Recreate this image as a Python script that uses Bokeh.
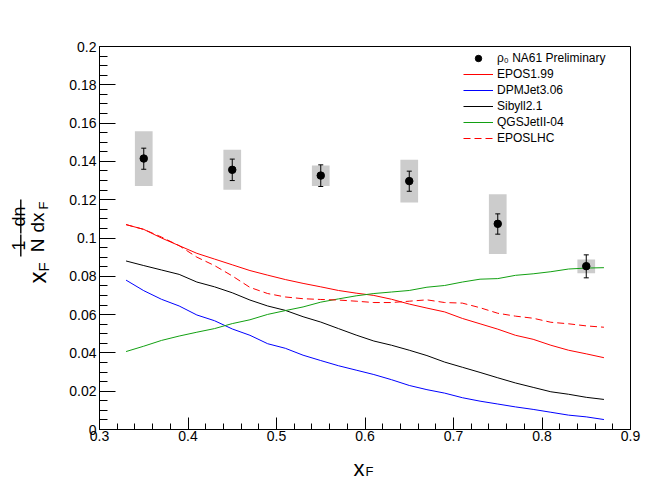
from math import pi
from bokeh.plotting import figure
from bokeh.layouts import row, column
from bokeh.models import (ColumnDataSource, Range1d, SingleIntervalTicker, CustomJSTickFormatter,
                          Legend, LegendItem, Whisker, TeeHead, Label)
from bokeh.embed import file_html
from bokeh.resources import INLINE

# ---------------- data ----------------
# NA61 preliminary rho0 points
xF_data = [0.35, 0.45, 0.55, 0.65, 0.75, 0.85]
rho_val = [0.1415, 0.1356, 0.1326, 0.1297, 0.1074, 0.0853]
stat_lo = [0.1359, 0.1300, 0.1269, 0.1244, 0.1020, 0.0792]
stat_hi = [0.1469, 0.1412, 0.1382, 0.1349, 0.1126, 0.0912]
sys_lo = [0.1271, 0.1252, 0.1271, 0.1185, 0.0916, 0.0816]
sys_hi = [0.1558, 0.1461, 0.1379, 0.1408, 0.1229, 0.0888]
bin_half = 0.01

# model predictions
xF_model = [0.33, 0.35, 0.37, 0.39, 0.41, 0.43, 0.45, 0.47, 0.49, 0.51, 0.53, 0.55, 0.57, 0.59,
            0.61, 0.63, 0.65, 0.67, 0.69, 0.71, 0.73, 0.75, 0.77, 0.79, 0.81, 0.83, 0.85, 0.87]
epos199 = [0.107, 0.1045, 0.100, 0.096, 0.092, 0.089, 0.086, 0.083, 0.0806, 0.0783, 0.0763, 0.0745,
           0.0726, 0.0712, 0.070, 0.068, 0.0655, 0.0634, 0.0614, 0.058, 0.0552, 0.0524, 0.0492,
           0.0471, 0.0440, 0.0414, 0.0395, 0.0375]
dpmjet = [0.078, 0.0725, 0.068, 0.0645, 0.0598, 0.0568, 0.0525, 0.0492, 0.0448, 0.0424, 0.0388,
          0.036, 0.0333, 0.031, 0.0287, 0.026, 0.023, 0.0208, 0.019, 0.0166, 0.0148, 0.0133,
          0.0118, 0.0105, 0.0090, 0.0075, 0.0066, 0.0052]
sibyll = [0.088, 0.0856, 0.0833, 0.081, 0.077, 0.0745, 0.0714, 0.0676, 0.0645, 0.0622, 0.0589,
          0.0561, 0.0527, 0.0493, 0.0462, 0.044, 0.0414, 0.0386, 0.0352, 0.0325, 0.0298, 0.0270,
          0.0243, 0.0220, 0.0197, 0.0184, 0.0168, 0.0157]
qgsjet = [0.0407, 0.0435, 0.0465, 0.0488, 0.0508, 0.0527, 0.0553, 0.0573, 0.0601, 0.0621, 0.064,
          0.0665, 0.0682, 0.0698, 0.0710, 0.0718, 0.0726, 0.0743, 0.0752, 0.0770, 0.0785, 0.0788,
          0.0805, 0.0813, 0.0824, 0.0838, 0.0843, 0.0845]
eposlhc = [0.107, 0.1045, 0.1005, 0.0960, 0.0900, 0.0856, 0.0802, 0.0742, 0.0710, 0.0692, 0.0683,
           0.0679, 0.0676, 0.0670, 0.0663, 0.0663, 0.0670, 0.0677, 0.0663, 0.0660, 0.0636, 0.0607,
           0.0592, 0.0581, 0.0560, 0.0552, 0.0541, 0.0534]

FONT = "Liberation Sans"
TOTAL_W, TOTAL_H = 664, 477
YLAB_W = 55
MAIN_W = TOTAL_W - YLAB_W
MAIN_H = 447
XLAB_H = TOTAL_H - MAIN_H
FRAME_L, FRAME_R, FRAME_T, FRAME_B = 99, 630, 46, 429

# ---------------- main plot ----------------
p = figure(width=MAIN_W, height=MAIN_H, output_backend="svg", toolbar_location=None,
           x_range=Range1d(0.3, 0.9), y_range=Range1d(0, 0.2),
           min_border_left=FRAME_L - YLAB_W, min_border_right=TOTAL_W - FRAME_R,
           min_border_top=FRAME_T, min_border_bottom=MAIN_H - FRAME_B)
p.background_fill_color = "white"
p.border_fill_color = "white"
p.grid.visible = False
p.outline_line_color = "black"
p.outline_line_width = 1
p.outline_line_alpha = 1

p.xaxis.ticker = SingleIntervalTicker(interval=0.1, num_minor_ticks=5)
p.yaxis.ticker = SingleIntervalTicker(interval=0.02, num_minor_ticks=4)
fmt = CustomJSTickFormatter(code="return String(Number(tick.toFixed(4)));")
p.xaxis.formatter = fmt
p.yaxis.formatter = fmt
for ax in (p.xaxis, p.yaxis):
    ax.axis_line_color = "black"
    ax.major_tick_line_color = "black"
    ax.minor_tick_line_color = "black"
    ax.major_tick_out = 0
    ax.minor_tick_out = 0
    ax.major_label_text_font = FONT
    ax.major_label_text_font_size = "14px"
    ax.major_label_text_color = "black"
p.xaxis.major_tick_in = 12
p.xaxis.minor_tick_in = 6
p.xaxis.major_label_standoff = 1
p.yaxis.major_tick_in = 16
p.yaxis.minor_tick_in = 8
p.yaxis.major_label_standoff = 3

dsrc = ColumnDataSource(dict(
    x=xF_data, y=rho_val, lo=stat_lo, hi=stat_hi,
    left=[v - bin_half for v in xF_data], right=[v + bin_half for v in xF_data],
    bottom=sys_lo, top=sys_hi))
msrc = ColumnDataSource(dict(x=xF_model, epos=epos199, dpm=dpmjet, sib=sibyll,
                             qgs=qgsjet, lhc=eposlhc))

p.quad(left="left", right="right", bottom="bottom", top="top", source=dsrc,
       fill_color="#cccccc", line_color=None)
r_epos = p.line("x", "epos", source=msrc, line_color="#ff0000", line_width=1)
r_dpm = p.line("x", "dpm", source=msrc, line_color="#0000ff", line_width=1)
r_sib = p.line("x", "sib", source=msrc, line_color="black", line_width=1)
r_qgs = p.line("x", "qgs", source=msrc, line_color="#12a012", line_width=1)
r_lhc = p.line("x", "lhc", source=msrc, line_color="#ff0000", line_width=1, line_dash="7 4")
wh = Whisker(source=dsrc, base="x", lower="lo", upper="hi", line_color="black", line_width=1,
             level="overlay",
             lower_head=TeeHead(size=5, line_color="black", line_width=1),
             upper_head=TeeHead(size=5, line_color="black", line_width=1))
p.add_layout(wh)
r_pts = p.scatter("x", "y", source=dsrc, marker="circle", size=7.5, fill_color="black",
                  line_color="black")

legend = Legend(items=[
    LegendItem(label="ρ₀ NA61 Preliminary", renderers=[r_pts]),
    LegendItem(label="EPOS1.99", renderers=[r_epos]),
    LegendItem(label="DPMJet3.06", renderers=[r_dpm]),
    LegendItem(label="Sibyll2.1", renderers=[r_sib]),
    LegendItem(label="QGSJetII-04", renderers=[r_qgs]),
    LegendItem(label="EPOSLHC", renderers=[r_lhc]),
], location=(362, 281))
legend.glyph_width = 30
legend.glyph_height = 16
legend.label_height = 16
legend.spacing = 0
legend.padding = 2
legend.margin = 0
legend.label_standoff = 4
legend.border_line_alpha = 0
legend.background_fill_alpha = 0
legend.label_text_font = FONT
legend.label_text_font_size = "12px"
legend.label_text_color = "black"
p.add_layout(legend)


def blank(w, h, xr, yr):
    f = figure(width=w, height=h, output_backend="svg", toolbar_location=None,
               x_range=xr, y_range=yr, x_axis_type=None, y_axis_type=None,
               min_border=0, min_border_left=0, min_border_right=0,
               min_border_top=0, min_border_bottom=0)
    f.grid.visible = False
    f.outline_line_color = None
    f.background_fill_color = "white"
    f.border_fill_color = "white"
    return f


def lab(f, text, x, y, size, align="left", angle=0.0):
    f.add_layout(Label(text=text, x=x, y=y, text_font=FONT, text_font_size=f"{size}px",
                       text_color="black", text_align=align, text_baseline="alphabetic",
                       angle=angle))


# ---------------- y-axis title: x_F (1/N) (dn/dx_F) ----------------
yl = blank(YLAB_W, TOTAL_H, Range1d(0, YLAB_W), Range1d(0, TOTAL_H))
A = pi / 2
Y = lambda py: TOTAL_H - py
lab(yl, "x", 37, Y(283), 24, angle=A)
lab(yl, "F", 43, Y(271), 15, angle=A)
lab(yl, "1", 18, Y(245), 18, align="center", angle=A)
lab(yl, "N", 37, Y(245), 19, align="center", angle=A)
lab(yl, "dn", 18, Y(216), 18, align="center", angle=A)
lab(yl, "dx", 37, Y(232), 19, angle=A)
lab(yl, "F", 43, Y(209), 13, angle=A)
yl.quad(left=[19.6, 19.6], right=[21.0, 21.0],
        bottom=[Y(256), Y(233)], top=[Y(234), Y(199)],
        fill_color="black", line_color=None)

# ---------------- x-axis title: x_F ----------------
# this panel's frame is aligned with the main frame (page x 99..630)
xl = blank(MAIN_W, XLAB_H, Range1d(FRAME_L, FRAME_R), Range1d(0, XLAB_H))
lab(xl, "x", 353, TOTAL_H - 468, 22)
lab(xl, "F", 365, TOTAL_H - 471, 13)

layout = row(yl, column(p, xl, spacing=0), spacing=0)
open("out.html", "w").write(file_html(layout, INLINE))
